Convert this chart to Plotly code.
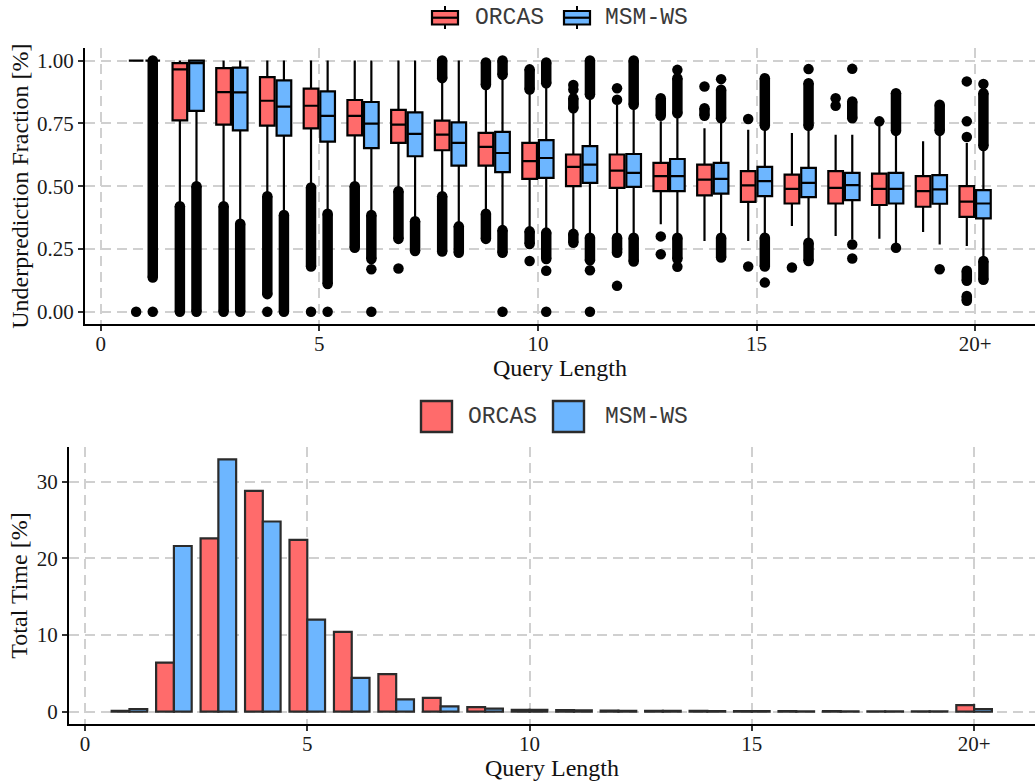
import numpy as np
import plotly.graph_objects as go

# ---------------- data ----------------
categories = list(range(1, 21))
x_tickvals = [0, 5, 10, 15, 20]
x_ticktext = ["0", "5", "10", "15", "20+"]
series_names = ["ORCAS", "MSM-WS"]

# Underprediction fraction box statistics
orcas_q1 = [1.0, 0.762, 0.745, 0.741, 0.730, 0.702, 0.672, 0.643, 0.582, 0.529,
            0.500, 0.493, 0.480, 0.463, 0.437, 0.431, 0.431, 0.425, 0.418, 0.378]
orcas_median = [1.0, 0.965, 0.874, 0.840, 0.820, 0.780, 0.745, 0.705, 0.656, 0.600,
                0.577, 0.562, 0.540, 0.526, 0.503, 0.489, 0.493, 0.489, 0.480, 0.438]
orcas_q3 = [1.0, 0.990, 0.970, 0.934, 0.888, 0.843, 0.804, 0.761, 0.712, 0.672,
            0.626, 0.626, 0.593, 0.586, 0.560, 0.546, 0.560, 0.550, 0.540, 0.500]
orcas_lower = [1.0, 0.430, 0.430, 0.470, 0.507, 0.510, 0.493, 0.474, 0.400, 0.328,
               0.321, 0.302, 0.348, 0.282, 0.282, 0.341, 0.302, 0.291, 0.317, 0.262]
orcas_upper = [1.0, 1.0, 1.0, 1.0, 1.0, 1.0, 1.0, 0.923, 0.897, 0.877,
               0.804, 0.824, 0.758, 0.731, 0.725, 0.712, 0.705, 0.745, 0.679, 0.672]

msm_q1 = [1.0, 0.800, 0.722, 0.701, 0.677, 0.651, 0.619, 0.582, 0.556, 0.533,
          0.513, 0.497, 0.480, 0.470, 0.460, 0.456, 0.444, 0.431, 0.430, 0.372]
msm_median = [1.0, 0.990, 0.873, 0.817, 0.780, 0.749, 0.708, 0.672, 0.632, 0.612,
              0.586, 0.553, 0.540, 0.529, 0.520, 0.513, 0.504, 0.489, 0.487, 0.431]
msm_q3 = [1.0, 1.0, 0.972, 0.921, 0.877, 0.835, 0.794, 0.754, 0.716, 0.683,
          0.659, 0.628, 0.608, 0.593, 0.577, 0.573, 0.553, 0.553, 0.544, 0.484]
msm_lower = [1.0, 0.513, 0.361, 0.394, 0.400, 0.394, 0.368, 0.348, 0.335, 0.321,
             0.302, 0.302, 0.302, 0.302, 0.302, 0.282, 0.288, 0.268, 0.268, 0.209]
msm_upper = [1.0, 1.0, 1.0, 1.0, 1.0, 1.0, 1.0, 1.0, 0.940, 0.903,
             0.857, 0.817, 0.784, 0.758, 0.731, 0.731, 0.705, 0.712, 0.712, 0.646]

# Outliers: dense runs of points (category, low, high) and isolated points (category, value)
orcas_outlier_runs = [
    (2, 0.0, 0.42), (3, 0.0, 0.42), (4, 0.07, 0.46), (5, 0.18, 0.495), (6, 0.255, 0.50),
    (7, 0.29, 0.48), (8, 0.93, 1.0), (8, 0.24, 0.46), (9, 0.903, 0.992), (9, 0.29, 0.39),
    (10, 0.885, 0.965), (10, 0.27, 0.32), (11, 0.81, 0.85), (11, 0.275, 0.31),
    (12, 0.235, 0.295), (13, 0.78, 0.85), (14, 0.78, 0.81), (20, 0.123, 0.163),
    (20, 0.044, 0.063),
]
orcas_outlier_points = [
    (1, 0.0), (4, 0.0), (5, 0.0), (7, 0.172), (10, 0.202), (11, 0.903), (11, 0.885),
    (12, 0.89), (12, 0.844), (12, 0.103), (13, 0.30), (13, 0.229), (14, 0.897),
    (15, 0.767), (15, 0.18), (16, 0.176), (17, 0.85), (17, 0.82), (18, 0.758),
    (20, 0.917), (20, 0.758), (20, 0.696),
]
msm_outlier_runs = [
    (1, 0.136, 1.0), (2, 0.0, 0.50), (3, 0.0, 0.35), (4, 0.0, 0.385), (5, 0.11, 0.39),
    (6, 0.21, 0.385), (7, 0.242, 0.36), (8, 0.235, 0.34), (9, 0.943, 1.0), (9, 0.235, 0.325),
    (10, 0.91, 0.992), (10, 0.21, 0.315), (11, 0.864, 1.0), (11, 0.205, 0.295),
    (12, 0.824, 1.0), (12, 0.20, 0.295), (13, 0.79, 0.93), (13, 0.21, 0.295),
    (14, 0.77, 0.884), (14, 0.216, 0.295), (15, 0.74, 0.93), (15, 0.18, 0.295),
    (16, 0.74, 0.91), (16, 0.202, 0.275), (17, 0.77, 0.837), (18, 0.72, 0.87),
    (19, 0.72, 0.824), (20, 0.66, 0.87), (20, 0.127, 0.202),
]
msm_outlier_points = [
    (1, 0.0), (5, 0.0), (6, 0.169), (6, 0.0), (9, 0.0), (10, 0.163), (10, 0.0),
    (11, 0.165), (11, 0.0), (13, 0.963), (13, 0.179), (14, 0.926), (15, 0.116),
    (16, 0.966), (17, 0.967), (17, 0.268), (17, 0.212), (18, 0.255), (19, 0.169),
    (20, 0.907),
]

# Total time share [%]
orcas_time = [0.1, 6.4, 22.6, 28.8, 22.4, 10.4, 4.9, 1.8, 0.6, 0.25,
              0.2, 0.15, 0.12, 0.1, 0.08, 0.07, 0.06, 0.05, 0.04, 0.85]
msm_time = [0.35, 21.6, 32.9, 24.8, 12.0, 4.4, 1.6, 0.7, 0.4, 0.25,
            0.18, 0.12, 0.1, 0.08, 0.06, 0.05, 0.04, 0.03, 0.03, 0.35]

# ---------------- style ----------------
RED = "#FF6B6B"
BLUE = "#6DB6FF"
W, H = 1035, 784
DODGE = 0.19
BOX_W = 0.335
SERIF = "Liberation Serif"
MONO = "Liberation Mono"
GRID = "#d0d0d0"

fig = go.Figure()

cats = np.array(categories, dtype=float)
box_sets = [
    (series_names[0], RED, -DODGE, orcas_q1, orcas_median, orcas_q3, orcas_lower, orcas_upper,
     orcas_outlier_runs, orcas_outlier_points),
    (series_names[1], BLUE, DODGE, msm_q1, msm_median, msm_q3, msm_lower, msm_upper,
     msm_outlier_runs, msm_outlier_points),
]

for name, col, off, q1, med, q3, lo, hi, runs, pts in box_sets:
    fig.add_trace(go.Box(
        x=cats + off, q1=q1, median=med, q3=q3, lowerfence=lo, upperfence=hi,
        width=BOX_W, whiskerwidth=0, boxpoints=False, fillcolor=col,
        line=dict(color="black", width=2.2), name=name, showlegend=False,
        xaxis="x", yaxis="y",
    ))

for name, col, off, q1, med, q3, lo, hi, runs, pts in box_sets:
    ox, oy = [], []
    for c, a, b in runs:
        ox += [c + off, c + off, None]
        oy += [a, b, None]
    for c, v in pts:
        ox += [c + off, None]
        oy += [v, None]
    fig.add_trace(go.Scatter(
        x=ox, y=oy, mode="lines+markers", connectgaps=False,
        line=dict(color="black", width=10.5),
        marker=dict(color="black", size=10.5),
        showlegend=False, hoverinfo="skip", xaxis="x", yaxis="y",
    ))

fig.add_trace(go.Bar(x=categories, y=orcas_time, name=series_names[0], offsetgroup="o",
                     marker=dict(color=RED, line=dict(color="#2b2b2b", width=2.2)),
                     showlegend=False, xaxis="x2", yaxis="y2"))
fig.add_trace(go.Bar(x=categories, y=msm_time, name=series_names[1], offsetgroup="m",
                     marker=dict(color=BLUE, line=dict(color="#2b2b2b", width=2.2)),
                     showlegend=False, xaxis="x2", yaxis="y2"))

tick_font = dict(family=SERIF, size=21, color="#1a1a1a")
title_font = dict(family=SERIF, size=24, color="#111111")
common_axis = dict(
    showline=True, linecolor="black", linewidth=2, ticks="outside", ticklen=5,
    tickwidth=1.6, tickcolor="#333333", showgrid=True, gridcolor=GRID, gridwidth=1.8,
    griddash="10px,6px", zeroline=False, tickfont=tick_font, mirror=False,
)
x_extra = dict(ticklabelstandoff=-6)

fig.update_layout(
    width=W, height=H, margin=dict(l=0, r=0, t=0, b=0),
    paper_bgcolor="white", plot_bgcolor="white",
    bargap=0.2, bargroupgap=0.0, barmode="group",
    xaxis=dict(domain=[85 / W, 1], range=[-0.36, 21.37], anchor="y",
               tickvals=x_tickvals, ticktext=x_ticktext,
               title=dict(text="Query Length", font=title_font, standoff=2),
               **common_axis, **x_extra),
    yaxis=dict(domain=[1 - 324.3 / H, 1 - 48 / H], range=[-0.05, 1.05], anchor="x",
               tickvals=[0, 0.25, 0.5, 0.75, 1.0], tickformat=".2f",
               title=dict(text="Underprediction Fraction [%]", font=title_font, standoff=2),
               **common_axis),
    xaxis2=dict(domain=[69 / W, 1], range=[-0.36, 21.37], anchor="y2",
                tickvals=x_tickvals, ticktext=x_ticktext,
                title=dict(text="Query Length", font=title_font, standoff=2),
                **common_axis, **x_extra),
    yaxis2=dict(domain=[1 - 724.3 / H, 1 - 446.7 / H], range=[-1.645, 34.55], anchor="x2",
                tickvals=[0, 10, 20, 30],
                title=dict(text="Total Time [%]", font=title_font, standoff=2),
                **common_axis),
)

# ---------------- custom legends ----------------
def px(x):
    return x / W

def py(y):
    return 1 - y / H

shapes = []
annotations = []
legend_font = dict(family=MONO, size=23, color="#3a3a3a")

# top legend (box keys)
for (x0, x1, tx, name, col) in [(432, 458, 473, series_names[0], RED),
                                (564, 590, 603, series_names[1], BLUE)]:
    xc = (x0 + x1) / 2
    shapes.append(dict(type="line", xref="paper", yref="paper", x0=px(xc), x1=px(xc),
                       y0=py(6), y1=py(29), line=dict(color="black", width=2)))
    shapes.append(dict(type="rect", xref="paper", yref="paper", x0=px(x0), x1=px(x1),
                       y0=py(11), y1=py(24.5), fillcolor=col, line=dict(color="black", width=2.2)))
    shapes.append(dict(type="line", xref="paper", yref="paper", x0=px(x0), x1=px(x1),
                       y0=py(17.7), y1=py(17.7), line=dict(color="black", width=2.2)))
    annotations.append(dict(text=name, xref="paper", yref="paper", x=px(tx), y=py(18),
                            xanchor="left", yanchor="middle", showarrow=False, font=legend_font))

# bottom legend (bar keys)
for (x0, x1, tx, name, col) in [(421, 452, 466, series_names[0], RED),
                                (553, 584, 603, series_names[1], BLUE)]:
    shapes.append(dict(type="rect", xref="paper", yref="paper", x0=px(x0), x1=px(x1),
                       y0=py(401), y1=py(432), fillcolor=col, line=dict(color="#2b2b2b", width=2.4)))
    annotations.append(dict(text=name, xref="paper", yref="paper", x=px(tx), y=py(417),
                            xanchor="left", yanchor="middle", showarrow=False, font=legend_font))

fig.update_layout(shapes=shapes, annotations=annotations)

fig.write_html("out.html", config={"displayModeBar": False},
               post_script="document.body.style.margin='0px';document.body.style.padding='0px';")
